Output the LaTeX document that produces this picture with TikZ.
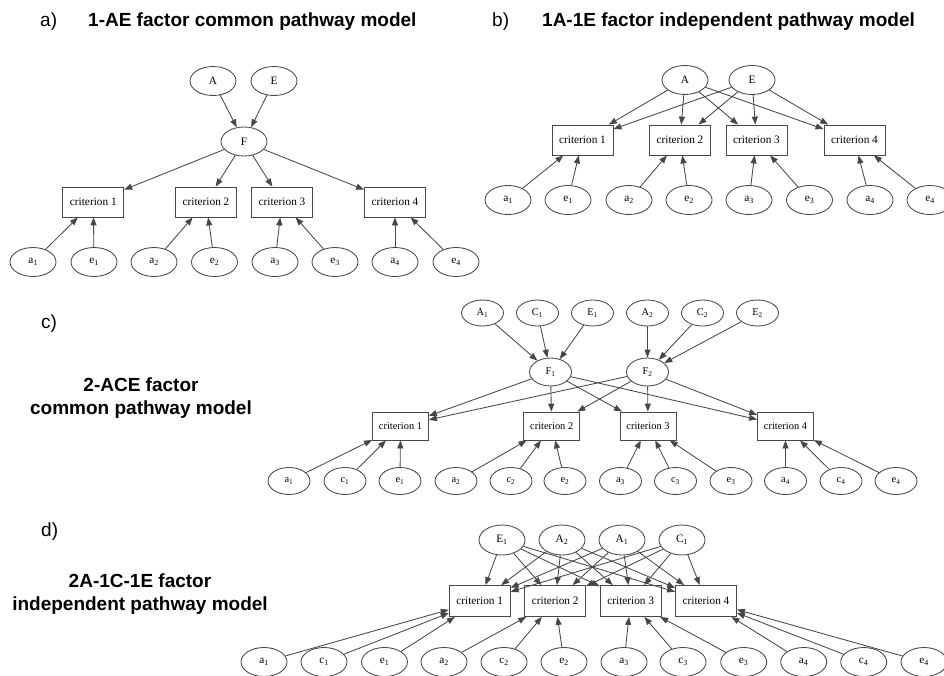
\documentclass[tikz,border=0pt]{standalone}
\usepackage{fontspec}
\setmainfont{Liberation Sans}
\newfontfamily\serifnodes{Liberation Serif}
\usetikzlibrary{shapes.geometric,arrows.meta}
\begin{document}
\begin{tikzpicture}[x=1pt,y=-1pt,
  ell/.style={ellipse,draw=black!72,line width=0.85pt,minimum width=46pt,minimum height=29pt,inner sep=0pt,
    font=\serifnodes\fontsize{11.3}{12}\selectfont},
  ellc/.style={ell,minimum width=42pt,minimum height=26pt,font=\serifnodes\fontsize{10.4}{11}\selectfont},
  box/.style={rectangle,draw=black!72,line width=0.85pt,minimum width=61pt,minimum height=30pt,inner sep=0pt,
    font=\serifnodes\fontsize{11.3}{12}\selectfont},
  boxc/.style={box,minimum width=56pt,minimum height=28pt,font=\serifnodes\fontsize{10.4}{11}\selectfont},
  arr/.style={draw=black!72,line width=0.85pt,-{Triangle[length=8pt,width=6pt]}},
  ttl/.style={font=\bfseries\fontsize{19}{22}\selectfont,inner sep=0pt,anchor=base},
  tag/.style={font=\fontsize{19}{22}\selectfont,inner sep=0pt,anchor=base west}
]
\useasboundingbox (0,0) rectangle (944,675);
\clip (0,0) rectangle (944,675);

% ---------- titles ----------
\node[tag] (ta) at (40,26) {a)};
\node[ttl,anchor=base west] (tta) at (88,26) {1-AE factor common pathway model};
\node[tag] (tb) at (492,26) {b)};
\node[ttl,anchor=base west] (ttb) at (542,26) {1A-1E factor independent pathway model};
\node[tag] (tc) at (41,328) {c)};
\node[ttl] (ttc1) at (141,391) {2-ACE factor};
\node[ttl] (ttc2) at (141,414) {common pathway model};
\node[tag] (td) at (41,536) {d)};
\node[ttl] (ttd1) at (140,587) {2A-1C-1E factor};
\node[ttl] (ttd2) at (140,610) {independent pathway model};

% ---------- panel a ----------
\node[ell] (aA) at (213,81) {A};
\node[ell] (aE) at (274,81) {E};
\node[ell] (aF) at (244,141.5) {F};
\draw[arr] (aA) -- (aF);
\draw[arr] (aE) -- (aF);
\foreach \i/\x in {1/93.3,2/206,3/282,4/395}{
  \node[box] (ac\i) at (\x,202) {criterion \i};
  \draw[arr] (aF) -- (ac\i);
}
\foreach \i/\xa/\xe in {1/33/94,2/154/214.5,3/275/335,4/395/456}{
  \node[ell] (aa\i) at (\xa,262) {a\textsubscript{\i}};
  \node[ell] (ae\i) at (\xe,262) {e\textsubscript{\i}};
  \draw[arr] (aa\i) -- (ac\i);
  \draw[arr] (ae\i) -- (ac\i);
}

% ---------- panel b ----------
\node[ell] (bA) at (685,80) {A};
\node[ell] (bE) at (752,80) {E};
\foreach \i/\x in {1/582.5,2/680,3/756.5,4/854.5}{
  \node[box] (bc\i) at (\x,140) {criterion \i};
  \draw[arr] (bA) -- (bc\i);
  \draw[arr] (bE) -- (bc\i);
}
\foreach \i/\xa/\xe in {1/508/568,2/629/689,3/749/809.5,4/870/930}{
  \node[ell] (ba\i) at (\xa,200) {a\textsubscript{\i}};
  \node[ell] (be\i) at (\xe,200) {e\textsubscript{\i}};
  \draw[arr] (ba\i) -- (bc\i);
  \draw[arr] (be\i) -- (bc\i);
}

% ---------- panel c ----------
\foreach \n/\t/\s/\x in {cA1/A/1/482.5,cC1/C/1/537.5,cE1/E/1/592.5,cA2/A/2/647.5,cC2/C/2/702.5,cE2/E/2/757.5}{
  \node[ellc] (\n) at (\x,313) {\t\textsubscript{\s}};
}
\node[ellc,minimum height=28pt] (cF1) at (550.5,372) {F\textsubscript{1}};
\node[ellc,minimum height=28pt] (cF2) at (647.5,372) {F\textsubscript{2}};
\foreach \n in {cA1,cC1,cE1}{\draw[arr] (\n) -- (cF1);}
\foreach \n in {cA2,cC2,cE2}{\draw[arr] (\n) -- (cF2);}
\foreach \i/\x in {1/400.5,2/551.7,3/648,4/785.5}{
  \node[boxc] (cc\i) at (\x,426) {criterion \i};
  \draw[arr] (cF1) -- (cc\i);
  \draw[arr] (cF2) -- (cc\i);
}
\foreach \i/\xa/\xc/\xe in {1/289/345/400,2/456/511/565,3/620.5/675.5/731,4/785.5/841/896}{
  \node[ellc,minimum height=27pt] (ca\i) at (\xa,481) {a\textsubscript{\i}};
  \node[ellc,minimum height=27pt] (cs\i) at (\xc,481) {c\textsubscript{\i}};
  \node[ellc,minimum height=27pt] (ce\i) at (\xe,481) {e\textsubscript{\i}};
  \draw[arr] (ca\i) -- (cc\i);
  \draw[arr] (cs\i) -- (cc\i);
  \draw[arr] (ce\i) -- (cc\i);
}

% ---------- panel d ----------
\foreach \n/\t/\s/\x in {dE1/E/1/502,dA2/A/2/562,dA1/A/1/622,dC1/C/1/682}{
  \node[ell,minimum height=30pt] (\n) at (\x,540) {\t\textsubscript{\s}};
}
\foreach \i/\x in {1/479.7,2/555.2,3/630.7,4/706}{
  \node[box,minimum height=31pt] (dc\i) at (\x,601) {criterion \i};
  \foreach \n in {dE1,dA2,dA1,dC1}{\draw[arr] (\n) -- (dc\i);}
}
\foreach \i/\xa/\xc/\xe in {1/264/324/384.5,2/444/504/564,3/624/683/743.7,4/803.7/863.7/924}{
  \node[ell] (da\i) at (\xa,662) {a\textsubscript{\i}};
  \node[ell] (ds\i) at (\xc,662) {c\textsubscript{\i}};
  \node[ell] (de\i) at (\xe,662) {e\textsubscript{\i}};
  \draw[arr] (da\i) -- (dc\i);
  \draw[arr] (ds\i) -- (dc\i);
  \draw[arr] (de\i) -- (dc\i);
}
\end{tikzpicture}
\end{document}
